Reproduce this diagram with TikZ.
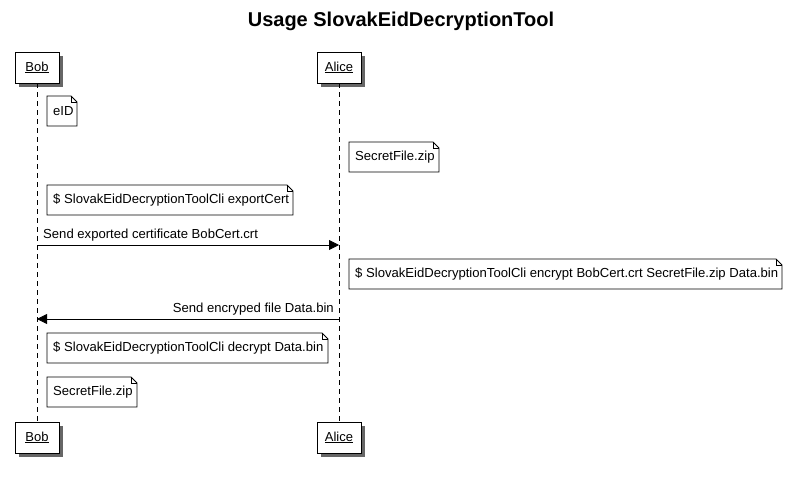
\documentclass[tikz,border=0pt]{standalone}
\usepackage{fontspec}
\setmainfont{Liberation Sans}
\usetikzlibrary{arrows.meta,shadows,calc}
\tikzset{
  participant/.style={draw=black, line width=0.8pt, fill=white, minimum width=44pt, minimum height=31pt, inner sep=0pt,
    font=\fontsize{13}{15}\selectfont, drop shadow={shadow xshift=4pt, shadow yshift=-4pt, fill=black, opacity=0.6}},
  lifeline/.style={draw=black, line width=0.8pt, dash pattern=on 5pt off 4pt},
  notetext/.style={inner sep=0pt, font=\fontsize{13.1}{15}\selectfont},
  notebd/.style={draw=black, line width=0.8pt, fill=white},
  msg/.style={draw=black, line width=0.8pt, -{Triangle[length=10pt,width=10pt]}},
  msglabel/.style={inner sep=0pt, font=\fontsize{13.1}{15}\selectfont},
}
\newcommand\mynote[6]{% name, x1, y1, w, h, text
  \path[notebd] (#2,#3) -- ++(#4-6,0) -- ++(6,6) -- ++(0,#5-6) -- ++(-#4,0) -- cycle;
  \draw[line width=0.8pt] (#2+#4-6,#3) -- ++(0,6) -- ++(6,0);
  \node[notetext, anchor=west] (#1) at (#2+6,#3+#5/2) {#6};
}
\begin{document}
\begin{tikzpicture}[x=1pt,y=-1pt]
\useasboundingbox[fill=white] (0,0) rectangle (794,476);
\node[font=\bfseries\fontsize{20}{24}\selectfont, inner sep=0pt] (title) at (401,21) {Usage SlovakEidDecryptionTool};
% participants
\node[participant] (bobtop) at (37,67.5) {\underline{Bob}};
\node[participant] (alicetop) at (339,67.5) {\underline{Alice}};
\node[participant] (bobbot) at (37,437.5) {\underline{Bob}};
\node[participant] (alicebot) at (339,437.5) {\underline{Alice}};
% lifelines
\draw[lifeline] (bobtop.south) -- (bobbot.north);
\draw[lifeline] (alicetop.south) -- (alicebot.north);
% notes
\mynote{n1}{47}{96}{30}{30}{eID}
\mynote{n2}{349}{142}{90}{30}{SecretFile.zip}
\mynote{n3}{47}{185}{246}{30}{\$ SlovakEidDecryptionToolCli exportCert}
\mynote{n4}{349}{259}{433}{30}{\$ SlovakEidDecryptionToolCli encrypt BobCert.crt SecretFile.zip Data.bin}
\mynote{n5}{47}{333}{281}{30}{\$ SlovakEidDecryptionToolCli decrypt Data.bin}
\mynote{n6}{47}{377}{90}{30}{SecretFile.zip}
% messages
\coordinate (m1s) at (bobtop.south |- 0,245);
\coordinate (m1e) at (alicetop.south |- 0,245);
\draw[msg] (m1s) -- (m1e);
\node[msglabel, anchor=base west] (l1) at (43,238) {Send exported certificate BobCert.crt};
\coordinate (m2s) at (alicetop.south |- 0,319);
\coordinate (m2e) at (bobtop.south |- 0,319);
\draw[msg] (m2s) -- (m2e);
\node[msglabel, anchor=base east] (l2) at (334,312) {Send encryped file Data.bin};
\end{tikzpicture}
\end{document}
